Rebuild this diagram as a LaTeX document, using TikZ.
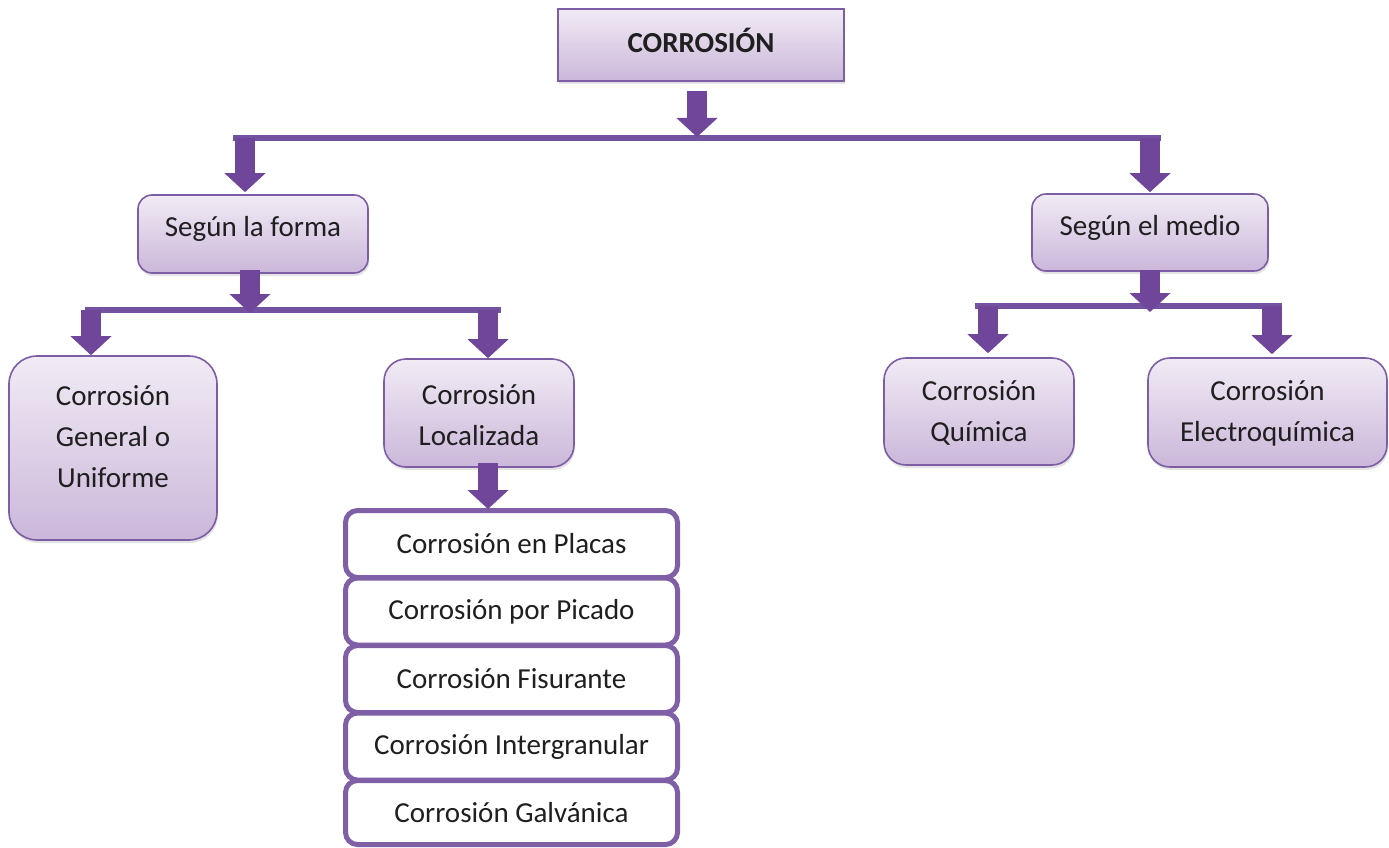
\documentclass[tikz,border=0pt]{standalone}
\usepackage{fontspec}
\setmainfont{Carlito}
\usetikzlibrary{arrows.meta,shadows}
\definecolor{boxtop}{HTML}{F1EBF5}
\definecolor{boxbot}{HTML}{CBB7DA}
\definecolor{boxborder}{HTML}{7D5DA4}
\definecolor{barcol}{HTML}{7352A0}
\definecolor{arrowcol}{HTML}{6F4699}
\definecolor{wborder}{HTML}{7F60A6}
\definecolor{txtcol}{HTML}{1F1F1F}
\tikzset{
  x=1pt, y=-1pt,
  pbox/.style={draw=boxborder, line width=1.6pt, top color=boxtop, bottom color=boxbot,
    drop shadow={shadow xshift=1pt, shadow yshift=-3pt, opacity=0.22},
    inner sep=0pt, rounded corners=#1},
  pbox/.default=14pt,
  wbox/.style={draw=wborder, line width=5pt, fill=white, rounded corners=12pt,
    inner sep=0pt, minimum width=332pt, minimum height=67pt,
    text=txtcol, font=\fontsize{29}{35}\selectfont},
  txt/.style={text=txtcol, font=\fontsize{29}{41}\selectfont, align=center, inner sep=0pt},
  bar/.style={draw=barcol, line width=5.5pt},
  barrow/.style={draw=arrowcol, line width=20pt, -{Triangle[length=19pt,width=40pt]}},
}
\begin{document}
\begin{tikzpicture}
\useasboundingbox (0,0) rectangle (1389,848);

% purple boxes
\node[pbox=0pt, minimum width=286pt, minimum height=72pt] (corr) at (701,45) {};
\node[txt, font=\fontsize{29}{35}\selectfont\bfseries] (corr-t) at (701,40) {CORROSIÓN};

\node[pbox, minimum width=230pt, minimum height=78pt] (forma) at (253,234) {};
\node[txt] (forma-t) at (253,229) {Según la forma};

\node[pbox, minimum width=236pt, minimum height=77pt] (medio) at (1150,232.5) {};
\node[txt] (medio-t) at (1150,228) {Según el medio};

\node[pbox=28pt, minimum width=208pt, minimum height=184pt] (gen) at (113,448) {};
\node[txt] (gen-t) at (113,437) {Corrosión\\General o\\Uniforme};

\node[pbox=22pt, minimum width=190pt, minimum height=108pt] (loc) at (479,413) {};
\node[txt] (loc-t) at (479,415) {Corrosión\\Localizada};

\node[pbox=22pt, minimum width=190pt, minimum height=107pt] (quim) at (979,411.5) {};
\node[txt] (quim-t) at (979,413) {Corrosión\\Química};

\node[pbox=22pt, minimum width=239pt, minimum height=109pt] (elec) at (1267.5,412.5) {};
\node[txt] (elec-t) at (1267.5,413) {Corrosión\\Electroquímica};

% white stacked boxes
\node[wbox] (placas) at (511.5,544) {Corrosión en Placas};
\node[wbox] (picado) at (511.5,611.5) {Corrosión por Picado};
\node[wbox] (fisur) at (511.5,679) {Corrosión Fisurante};
\node[wbox] (inter) at (511.5,746.5) {Corrosión Intergranular};
\node[wbox, minimum height=64pt] (galv) at (511.5,812.5) {Corrosión Galvánica};

% bars
\coordinate (b1L) at (233,138);
\coordinate (b1R) at (1161,138);
\coordinate (b1m) at (697,138);
\coordinate (b1a) at (245,138);
\coordinate (b1b) at (1150,138);
\draw[bar] (b1L) -- (b1R);

\coordinate (b2L) at (85,310);
\coordinate (b2R) at (501,310);
\coordinate (b2m) at (250,310);
\coordinate (b2a) at (91,310);
\coordinate (b2b) at (488,310);
\draw[bar] (b2L) -- (b2R);

\coordinate (b3L) at (975,306);
\coordinate (b3R) at (1282,306);
\coordinate (b3m) at (1150,306);
\coordinate (b3a) at (988,306);
\coordinate (b3b) at (1272,306);
\draw[bar] (b3L) -- (b3R);

% arrows
\draw[barrow] ([yshift=-9pt]corr.south -| b1m) -- ([yshift=1pt]b1m);
\draw[barrow] (b1a) -- ([yshift=2pt]forma.north -| b1a);
\draw[barrow] (b1b) -- ([yshift=1pt]medio.north -| b1b);
\draw[barrow] ([yshift=4pt]forma.south -| b2m) -- ([yshift=-3pt]b2m);
\draw[barrow] (b2a) -- (gen.north -| b2a);
\draw[barrow] (b2b) -- (loc.north -| b2b);
\draw[barrow] ([yshift=2pt]medio.south -| b3m) -- ([yshift=-6pt]b3m);
\draw[barrow] (b3a) -- ([yshift=4pt]quim.north -| b3a);
\draw[barrow] (b3b) -- ([yshift=3pt]elec.north -| b3b);
\draw[barrow] ([yshift=5pt]loc.south -| b2b) -- ([yshift=-1pt]placas.north -| b2b);
\end{tikzpicture}
\end{document}
